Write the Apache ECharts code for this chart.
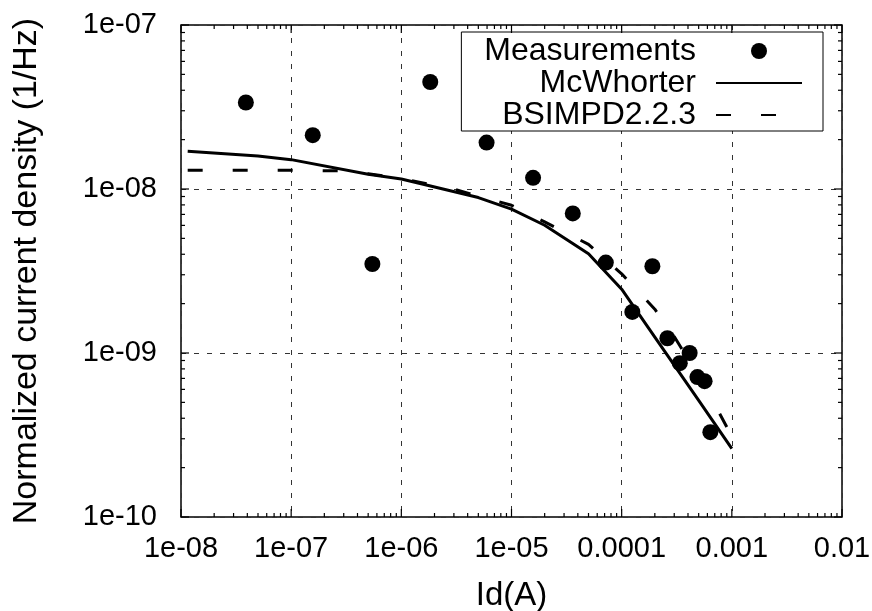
<!DOCTYPE html>
<html><head><meta charset="utf-8">
<script src="https://cdn.jsdelivr.net/npm/echarts@6/dist/echarts.min.js"></script>
<style>html,body{margin:0;padding:0;background:#fff}#c{width:872px;height:611px}</style>
</head><body><div id="c"></div>
<script>
const xTickLabels = ['1e-08', '1e-07', '1e-06', '1e-05', '0.0001', '0.001', '0.01'];
const yTickLabels = ['1e-10', '1e-09', '1e-08', '1e-07'];
const seriesNames = ['Measurements', 'McWhorter', 'BSIMPD2.2.3'];
const xTitle = 'Id(A)';
const yTitle = 'Normalized current density (1/Hz)';

const measX = [3.88e-8, 1.57e-7, 5.46e-7, 1.83e-6, 5.94e-6, 1.57e-5, 3.6e-5, 7.18e-5, 1.25e-4, 1.90e-4, 2.60e-4, 3.37e-4, 4.14e-4, 4.87e-4, 5.66e-4, 6.38e-4];
const measY = [3.37e-8, 2.13e-8, 3.49e-9, 4.49e-8, 1.92e-8, 1.17e-8, 7.1e-9, 3.56e-9, 1.78e-9, 3.38e-9, 1.23e-9, 8.67e-10, 1.00e-9, 7.13e-10, 6.73e-10, 3.29e-10];

const mcwX = [1.15e-8, 5e-8, 1e-7, 5e-7, 1e-6, 5e-6, 1e-5, 2e-5, 5e-5, 1e-4, 2e-4, 5e-4, 1e-3];
const mcwY = [1.70e-8, 1.59e-8, 1.51e-8, 1.23e-8, 1.15e-8, 8.87e-9, 7.53e-9, 6.01e-9, 4.03e-9, 2.45e-9, 1.25e-9, 5.14e-10, 2.61e-10];

const bsimX = [1.15e-8, 1e-7, 3e-7, 5e-7, 1e-6, 3e-6, 1e-5, 2e-5, 5e-5, 1e-4, 2e-4, 3e-4, 5e-4, 7e-4, 1e-3];
const bsimY = [1.30e-8, 1.30e-8, 1.29e-8, 1.24e-8, 1.16e-8, 9.97e-9, 7.96e-9, 6.30e-9, 4.60e-9, 3.04e-9, 1.85e-9, 1.26e-9, 7.19e-10, 4.85e-10, 3.10e-10];

const zip = (a, b) => a.map((v, i) => [v, b[i]]);
const FONT = '"Liberation Sans", Arial, sans-serif';
const X_MIN = 1e-8, X_MAX = 1e-2, Y_MIN = 1e-10, Y_MAX = 1e-7;

function renderTicks(params, api) {
  const lb = api.coord([X_MIN, Y_MIN]);
  const rt = api.coord([X_MAX, Y_MAX]);
  const L = lb[0], B = lb[1], R = rt[0], T = rt[1];
  const children = [];
  const style = { stroke: '#000', lineWidth: 1.2 };
  const push = (x1, y1, x2, y2) => children.push({ type: 'line', shape: { x1, y1, x2, y2 }, style });
  for (let e = -8; e <= -2; e++) {
    for (let m = 1; m <= 9; m++) {
      if (e === -2 && m > 1) break;
      const v = m * Math.pow(10, e);
      const px = api.coord([v, 1e-9])[0];
      const len = m === 1 ? 8 : 4;
      push(px, B, px, B - len);
      push(px, T, px, T + len);
    }
  }
  for (let e = -10; e <= -7; e++) {
    for (let m = 1; m <= 9; m++) {
      if (e === -7 && m > 1) break;
      const v = m * Math.pow(10, e);
      const py = api.coord([1e-6, v])[1];
      const len = m === 1 ? 8 : 4;
      push(L, py, L + len, py);
      push(R, py, R - len, py);
    }
  }
  return { type: 'group', children };
}

const chart = echarts.init(document.getElementById('c'), null, { renderer: 'canvas' });
chart.setOption({
  animation: false,
  backgroundColor: '#fff',
  grid: {
    left: 181, right: 30, top: 25, bottom: 94, show: true, borderColor: '#000', borderWidth: 1.5,
    backgroundColor: 'transparent', containLabel: false, outerBoundsMode: 'none'
  },
  legend: {
    data: [
      { name: seriesNames[0] },
      { name: seriesNames[1], itemStyle: { opacity: 0 } },
      { name: seriesNames[2], itemStyle: { opacity: 0 } }
    ],
    orient: 'vertical', right: 49, top: 32, align: 'right',
    itemWidth: 86, itemHeight: 16, itemGap: 0,
    padding: [3, 20, 0, 23],
    borderColor: '#000', borderWidth: 1, backgroundColor: '#fff',
    selectedMode: false,
    textStyle: { fontFamily: FONT, fontSize: 32, color: '#000', lineHeight: 31.5, padding: [0, 15, 0, 0] }
  },
  xAxis: {
    type: 'log', logBase: 10, min: X_MIN, max: X_MAX,
    axisLine: { show: false }, axisTick: { show: false },
    axisLabel: {
      formatter: v => xTickLabels[Math.round(Math.log10(v)) + 8],
      fontFamily: FONT, fontSize: 29, color: '#000', margin: 17, showMinLabel: true, showMaxLabel: true
    },
    splitLine: { show: true, lineStyle: { color: '#333', width: 1, type: [5, 8] } },
    name: xTitle, nameLocation: 'middle', nameGap: 62,
    nameTextStyle: { fontFamily: FONT, fontSize: 33, color: '#000' }
  },
  yAxis: {
    type: 'log', logBase: 10, min: Y_MIN, max: Y_MAX,
    axisLine: { show: false }, axisTick: { show: false },
    axisLabel: {
      formatter: v => yTickLabels[Math.round(Math.log10(v)) + 10],
      fontFamily: FONT, fontSize: 29, color: '#000', margin: 24, showMinLabel: true, showMaxLabel: true
    },
    splitLine: { show: true, lineStyle: { color: '#333', width: 1, type: [5, 8] } },
    name: yTitle, nameLocation: 'middle', nameGap: 137,
    nameTextStyle: { fontFamily: FONT, fontSize: 34, color: '#000' }
  },
  series: [
    {
      name: seriesNames[0], type: 'scatter', symbol: 'circle', symbolSize: 16,
      itemStyle: { color: '#000', opacity: 1 }, data: zip(measX, measY), z: 3
    },
    {
      name: seriesNames[1], type: 'line', symbol: 'none', data: zip(mcwX, mcwY),
      lineStyle: { color: '#000', width: 3 }, itemStyle: { color: '#000' }, z: 2
    },
    {
      name: seriesNames[2], type: 'line', symbol: 'none', data: zip(bsimX, bsimY),
      lineStyle: { color: '#000', width: 3, type: [15, 30] }, itemStyle: { color: '#000' }, z: 2
    },
    {
      type: 'custom', coordinateSystem: 'cartesian2d', data: [[1e-6, 1e-9]],
      renderItem: renderTicks, silent: true, z: 5, clip: false
    }
  ]
});
</script>
</body></html>
